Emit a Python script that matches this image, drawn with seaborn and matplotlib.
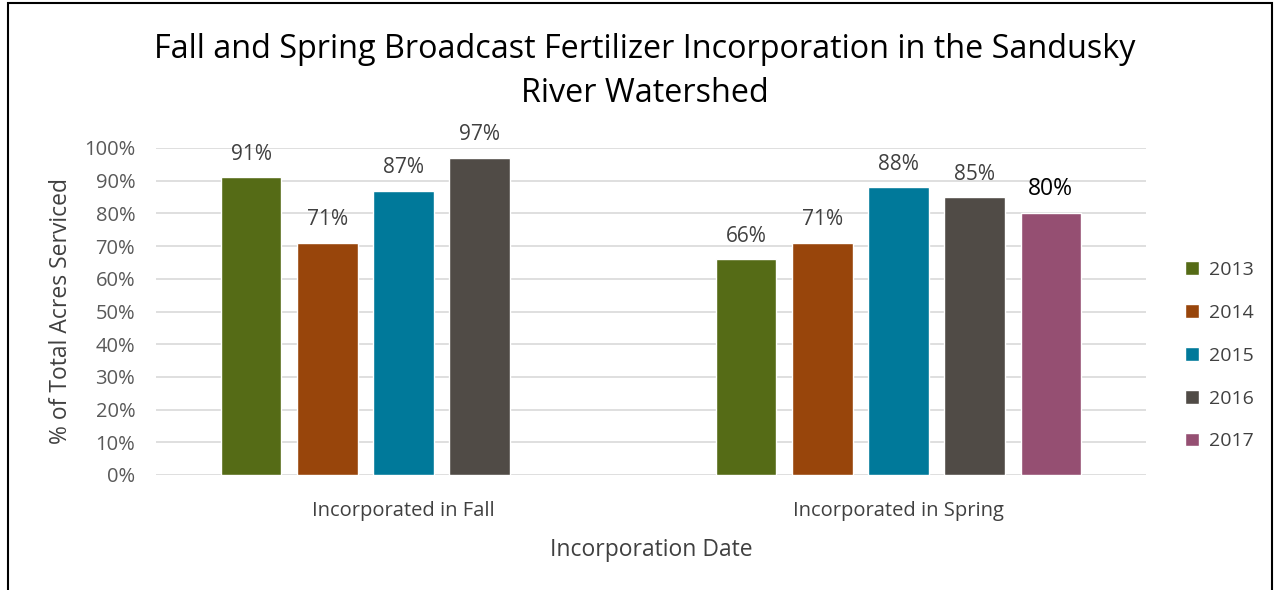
import matplotlib
matplotlib.use("Agg")
import matplotlib.pyplot as plt
import seaborn as sns
import pandas as pd
import numpy as np
from matplotlib.patches import Rectangle

categories = ["Incorporated in Fall", "Incorporated in Spring"]
years = ["2013", "2014", "2015", "2016", "2017"]
fall_values = [91, 71, 87, 97, np.nan]
spring_values = [66, 71, 88, 85, 80]
colors = ["#556B16", "#98450B", "#00799A", "#504B46", "#954F72"]

rows = []
for y, f, s in zip(years, fall_values, spring_values):
    rows.append({"Category": categories[0], "Year": y, "Value": f})
    rows.append({"Category": categories[1], "Year": y, "Value": s})
df = pd.DataFrame(rows)

sns.set_theme(style="white")
plt.rcParams["font.family"] = ["Open Sans", "DejaVu Sans"]

fig = plt.figure(figsize=(12.76, 5.9), dpi=100)
ax = fig.add_axes([156/1276, 1 - 475/590, (1146 - 156)/1276, (475 - 148)/590])

sns.barplot(data=df, x="Category", y="Value", hue="Year", order=categories,
            hue_order=years, palette=colors, width=0.768, gap=0.21,
            ax=ax, saturation=1, legend=True)

ax.set_ylim(0, 100)
ax.set_xlim(-0.5, 1.5)
ax.set_yticks(range(0, 101, 10))
ax.set_yticklabels([f"{v}%" for v in range(0, 101, 10)], color="#595959", fontsize=14.5)
ax.tick_params(axis="y", length=0, pad=15)
ax.tick_params(axis="x", length=0, pad=19, labelsize=14.5, labelcolor="#404040")
ax.yaxis.grid(True, color="#D9D9D9", linewidth=1.2)
ax.set_axisbelow(True)
for s in ax.spines.values():
    s.set_visible(False)

ax.set_ylabel("% of Total Acres Serviced", fontsize=16.5, color="#404040", labelpad=8)
ax.set_xlabel("Incorporation Date", fontsize=16.5, color="#404040", labelpad=12)

for i, cont in enumerate(ax.containers):
    labels = []
    for bar in cont:
        h = bar.get_height()
        labels.append("" if np.isnan(h) else f"{int(round(h))}%")
    if years[i] == "2017":
        ax.bar_label(cont, labels=labels, padding=9, fontsize=16.5, color="black")
    else:
        ax.bar_label(cont, labels=labels, padding=9, fontsize=15, color="#404040")

leg = ax.legend(loc="center left", bbox_to_anchor=(1.032, 0.365),
                frameon=False, fontsize=14, handlelength=0.7, handleheight=0.7,
                handletextpad=0.5, labelspacing=1.28, borderaxespad=0)
for t in leg.get_texts():
    t.set_color("#404040")

fig.text(0.505, 1 - 50/590, "Fall and Spring Broadcast Fertilizer Incorporation in the Sandusky",
         ha="center", va="center", fontsize=23.3, color="black")
fig.text(0.505, 1 - 94/590, "River Watershed", ha="center", va="center", fontsize=23.3, color="black")

fig.patches.append(Rectangle((8/1276, -0.05), (1272 - 8)/1276, 1.05 - 3/590,
                             transform=fig.transFigure, fill=False, edgecolor="black",
                             linewidth=1.5))

fig.savefig("out.png", dpi=100)
